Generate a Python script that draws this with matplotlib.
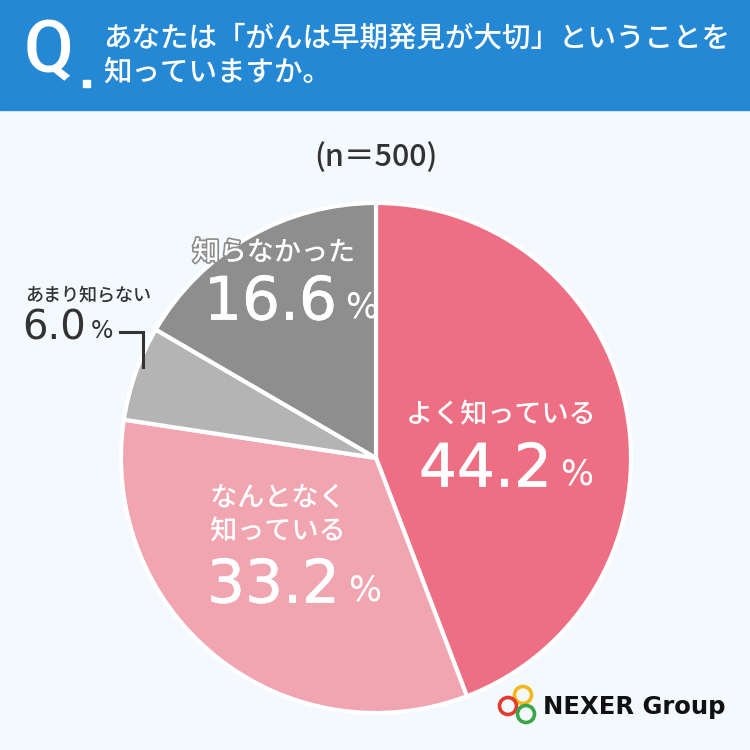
import matplotlib
matplotlib.use("Agg")
import matplotlib.pyplot as plt
import matplotlib.patheffects as pe
from matplotlib.patches import Rectangle, Circle

plt.rcParams["font.family"] = ["Noto Sans CJK JP", "DejaVu Sans"]

labels = ["よく知っている", "なんとなく\n知っている", "あまり知らない", "知らなかった"]
values = [44.2, 33.2, 6.0, 16.6]
colors = ["#EE6F83", "#F0A5B0", "#B4B4B4", "#8E8E8E"]
question = "あなたは「がんは早期発見が大切」ということを\n知っていますか。"
sample = "(n＝500)"

W = H = 750
NUM_FONT = "DejaVu Sans"

fig = plt.figure(figsize=(7.5, 7.5), dpi=100)
fig.patch.set_facecolor("#F4F9FD")
ax = fig.add_axes([0, 0, 1, 1])
renderer = fig.canvas.get_renderer()


def Y(y):
    return H - y


def number_label(x_left, y_mid, value, size, pct_size, color, gap, stroke=0.0):
    effects = [pe.withStroke(linewidth=stroke, foreground=color)] if stroke else None
    t = ax.text(x_left, Y(y_mid), f"{value:.1f}", color=color, fontsize=size,
                family=NUM_FONT, ha="left", va="center", zorder=4,
                path_effects=effects)
    x = x_left + t.get_window_extent(renderer).width + gap
    ax.text(x, Y(y_mid + size * 0.11), "%", color=color, fontsize=pct_size,
            family=NUM_FONT, ha="left", va="center", zorder=4)


# pie first, then fix the view
ax.pie(values, colors=colors, startangle=90, counterclock=False,
       center=(376, Y(458)), radius=255, frame=True,
       wedgeprops=dict(edgecolor="white", linewidth=3))
ax.set_xlim(0, W)
ax.set_ylim(0, H)
ax.set_aspect("equal")
ax.axis("off")

# header band
ax.add_patch(Rectangle((0, Y(110)), W, 110, color="#2488D4", zorder=1))
ax.text(49, Y(53), "Q", color="white", fontsize=52, fontweight="medium",
        family=["Roboto", "DejaVu Sans"], ha="center", va="center", zorder=2)
ax.add_patch(Rectangle((83, Y(87)), 7, 7, color="white", zorder=2))
ax.text(103, Y(55), question, color="white", fontsize=20.5, ha="left",
        va="center", linespacing=1.25, fontweight="medium", zorder=2)

ax.text(376, Y(157), sample, color="#333333", fontsize=22, ha="center",
        va="center", fontweight="medium")

# labels inside the big slices
inside = [
    (0, 501, 415, 419, 470),
    (1, 278, 515, 207, 586),
    (3, 274, 253, 204, 303),
]
for i, lx, ly, nx, ny in inside:
    ax.text(lx, Y(ly), labels[i], color="white", fontsize=19.5, ha="center",
            va="center", linespacing=1.3, fontweight="medium", zorder=4,
            path_effects=[pe.withStroke(linewidth=2.5, foreground=colors[i])])
    number_label(nx, ny, values[i], 43, 25, "white", 8, stroke=0.5)

# small slice label outside with leader
ax.text(88, Y(295), labels[2], color="#333333", fontsize=13, ha="center",
        va="center", fontweight="medium")
number_label(22, 328, values[2], 29, 17, "#333333", 5)
ax.plot([120, 143, 143], [Y(332), Y(332), Y(367)], color="#333333", lw=2.2,
        solid_joinstyle="miter")

# logo
for cx, cy, c in [(523, 695, "#F2B81E"), (508, 706, "#E23B2E"), (526, 714, "#3BA54A")]:
    ax.add_patch(Circle((cx, Y(cy)), 8.5, fill=False, edgecolor=c, lw=2.6, zorder=5))
ax.text(543, Y(707), "NEXER Group", color="#111111", fontsize=17.5,
        fontweight="bold", ha="left", va="center", family="DejaVu Sans", zorder=5)

fig.savefig("out.png", dpi=100, facecolor=fig.get_facecolor())
